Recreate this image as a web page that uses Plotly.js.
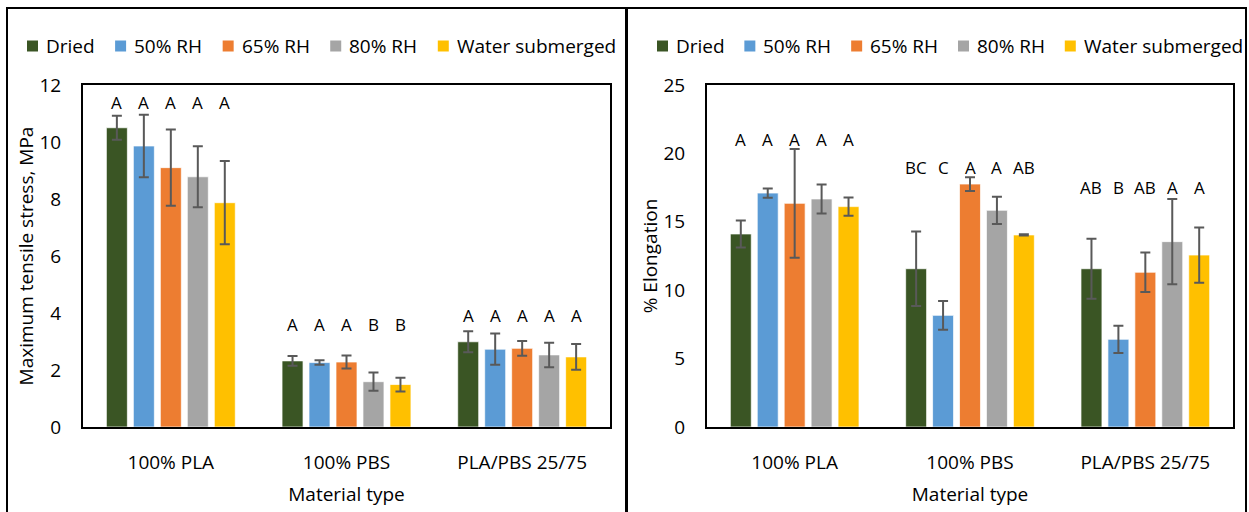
<!DOCTYPE html>
<html>
<head>
<meta charset="utf-8">
<script src="https://cdn.plot.ly/plotly-3.0.1.min.js"></script>
<style>html,body{margin:0;padding:0;background:#fff;}#chart{width:1249px;height:512px;}</style>
</head>
<body>
<div id="chart"></div>
<script>
// ---- data ----
const categories = ['100% PLA', '100% PBS', 'PLA/PBS 25/75'];
const seriesNames = ['Dried', '50% RH', '65% RH', '80% RH', 'Water submerged'];
const seriesColors = ['#3a5524', '#5b9bd5', '#ed7d31', '#a5a5a5', '#ffc000'];

// Maximum tensile stress, MPa
const stressDried = [10.50, 2.32, 2.99];
const stress50RH = [9.86, 2.26, 2.73];
const stress65RH = [9.10, 2.28, 2.76];
const stress80RH = [8.78, 1.59, 2.53];
const stressWater = [7.87, 1.49, 2.46];
const stressErrDried = [0.42, 0.17, 0.37];
const stressErr50RH = [1.10, 0.08, 0.55];
const stressErr65RH = [1.34, 0.23, 0.26];
const stressErr80RH = [1.07, 0.32, 0.43];
const stressErrWater = [1.46, 0.24, 0.45];
const stressLettersDried = ['A', 'A', 'A'];
const stressLetters50RH = ['A', 'A', 'A'];
const stressLetters65RH = ['A', 'A', 'A'];
const stressLetters80RH = ['A', 'B', 'A'];
const stressLettersWater = ['A', 'B', 'A'];
const stressLetterHeight = [11.4, 3.58, 3.93];
const stressTicks = [0, 2, 4, 6, 8, 10, 12];

// % Elongation
const elongDried = [14.11, 11.57, 11.57];
const elong50RH = [17.10, 8.16, 6.41];
const elong65RH = [16.35, 17.76, 11.31];
const elong80RH = [16.67, 15.84, 13.55];
const elongWater = [16.11, 14.04, 12.57];
const elongErrDried = [0.98, 2.73, 2.20];
const elongErr50RH = [0.34, 1.05, 1.00];
const elongErr65RH = [3.97, 0.50, 1.44];
const elongErr80RH = [1.06, 1.00, 3.12];
const elongErrWater = [0.67, 0.05, 2.02];
const elongLettersDried = ['A', 'BC', 'AB'];
const elongLetters50RH = ['A', 'C', 'B'];
const elongLetters65RH = ['A', 'A', 'AB'];
const elongLetters80RH = ['A', 'A', 'A'];
const elongLettersWater = ['A', 'AB', 'A'];
const elongLetterHeight = [21.0, 18.95, 17.5];
const elongTicks = [0, 5, 10, 15, 20, 25];

// ---- build ----
const FONT = 'Open Sans, Noto Sans, DejaVu Sans, sans-serif';
const FS = 19;
const BARGAP = 0.232, BARGROUPGAP = 0.222;
const W = 1249, H = 512;
const stressVals = [stressDried, stress50RH, stress65RH, stress80RH, stressWater];
const stressErrs = [stressErrDried, stressErr50RH, stressErr65RH, stressErr80RH, stressErrWater];
const stressLetters = [stressLettersDried, stressLetters50RH, stressLetters65RH, stressLetters80RH, stressLettersWater];
const elongVals = [elongDried, elong50RH, elong65RH, elong80RH, elongWater];
const elongErrs = [elongErrDried, elongErr50RH, elongErr65RH, elongErr80RH, elongErrWater];
const elongLetters = [elongLettersDried, elongLetters50RH, elongLetters65RH, elongLetters80RH, elongLettersWater];

const traces = [];
const annotations = [];
const shapes = [];
const nS = seriesNames.length;
function addPanel(vals, errs, letters, letterH, xa, ya) {
  for (let s = 0; s < nS; s++) {
    traces.push({
      type: 'bar', name: seriesNames[s], x: categories, y: vals[s],
      xaxis: xa, yaxis: ya, showlegend: false,
      marker: {color: seriesColors[s], line: {color: 'rgba(255,255,255,0.7)', width: 1}},
      error_y: {type: 'data', array: errs[s], visible: true, color: '#595959', thickness: 2, width: 5},
      hoverinfo: 'y+name'
    });
    const slot = (1 - BARGAP) / nS;
    for (let c = 0; c < categories.length; c++) {
      annotations.push({
        xref: xa, yref: ya, x: c - (1 - BARGAP) / 2 + (s + 0.5) * slot, y: letterH[c],
        text: letters[s][c], showarrow: false, xanchor: 'center', yanchor: 'middle',
        font: {family: FONT, size: 17, color: '#000'}
      });
    }
  }
}
addPanel(stressVals, stressErrs, stressLetters, stressLetterHeight, 'x', 'y');
addPanel(elongVals, elongErrs, elongLetters, elongLetterHeight, 'x2', 'y2');

// Legend drawn Excel-style: small square swatch then name, spread over a fixed width
const LFS = 19;
const ctx = document.createElement('canvas').getContext('2d');
ctx.font = LFS + 'px "Open Sans"';
const textW = seriesNames.map(n => ctx.measureText(n).width);
function addLegend(x0, x1, yc) {
  const sw = 11, gap = 6;
  const total = textW.reduce((a, b) => a + b, 0) + nS * (sw + gap);
  const between = (x1 - x0 - total) / (nS - 1);
  let x = x0;
  const yp = (H - yc) / H;
  for (let s = 0; s < nS; s++) {
    shapes.push({type: 'rect', xref: 'paper', yref: 'paper', x0: x / W, x1: (x + sw) / W,
      y0: (H - yc - sw / 2) / H, y1: (H - yc + sw / 2) / H, fillcolor: seriesColors[s], line: {width: 0}});
    annotations.push({xref: 'paper', yref: 'paper', x: (x + sw + gap) / W, y: yp, xanchor: 'left', yanchor: 'middle',
      text: seriesNames[s], showarrow: false, font: {family: FONT, size: LFS, color: '#000'}});
    x += sw + gap + textW[s] + between;
  }
}
addLegend(27, 614, 46);
addLegend(657, 1241, 46);

const yDom = [(H - 427) / H, (H - 85) / H];
const xAxisBase = {
  type: 'category', showline: true, linecolor: '#000', linewidth: 2, mirror: true,
  ticks: '', showgrid: false, zeroline: false, ticklabelstandoff: 17,
  tickfont: {family: FONT, size: FS, color: '#000'},
  title: {text: 'Material type', font: {family: FONT, size: FS, color: '#000'}, standoff: 14},
  fixedrange: true
};
const yAxisBase = {
  showline: true, linecolor: '#000', linewidth: 2, mirror: true, ticks: '', showgrid: false,
  zeroline: false, ticklabelstandoff: 16, tickfont: {family: FONT, size: FS, color: '#000'},
  fixedrange: true, domain: yDom
};

shapes.push(
  {type: 'rect', xref: 'paper', yref: 'paper', x0: 7 / W, x1: 1246 / W, y0: -0.01, y1: (H - 8) / H,
    line: {color: '#000', width: 2}, fillcolor: 'rgba(0,0,0,0)'},
  {type: 'line', xref: 'paper', yref: 'paper', x0: 626.5 / W, x1: 626.5 / W, y0: -0.01, y1: (H - 8) / H,
    line: {color: '#000', width: 3}}
);

const layout = {
  width: W, height: H, margin: {l: 0, r: 0, t: 0, b: 0},
  paper_bgcolor: '#fff', plot_bgcolor: '#fff',
  barmode: 'group', bargap: BARGAP, bargroupgap: BARGROUPGAP,
  showlegend: false,
  font: {family: FONT, color: '#000'},
  xaxis: Object.assign({}, xAxisBase, {domain: [83 / W, 610 / W], anchor: 'y'}),
  yaxis: Object.assign({}, yAxisBase, {anchor: 'x', range: [0, 12], tickvals: stressTicks,
    title: {text: 'Maximum tensile stress, MPa', font: {family: FONT, size: FS, color: '#000'}, standoff: 0}}),
  xaxis2: Object.assign({}, xAxisBase, {domain: [707 / W, 1233 / W], anchor: 'y2'}),
  yaxis2: Object.assign({}, yAxisBase, {anchor: 'x2', range: [0, 25], tickvals: elongTicks,
    title: {text: '% Elongation', font: {family: FONT, size: FS, color: '#000'}, standoff: 0}}),
  annotations: annotations,
  shapes: shapes
};

Plotly.newPlot('chart', traces, layout, {displayModeBar: false, staticPlot: true});
</script>
</body>
</html>
